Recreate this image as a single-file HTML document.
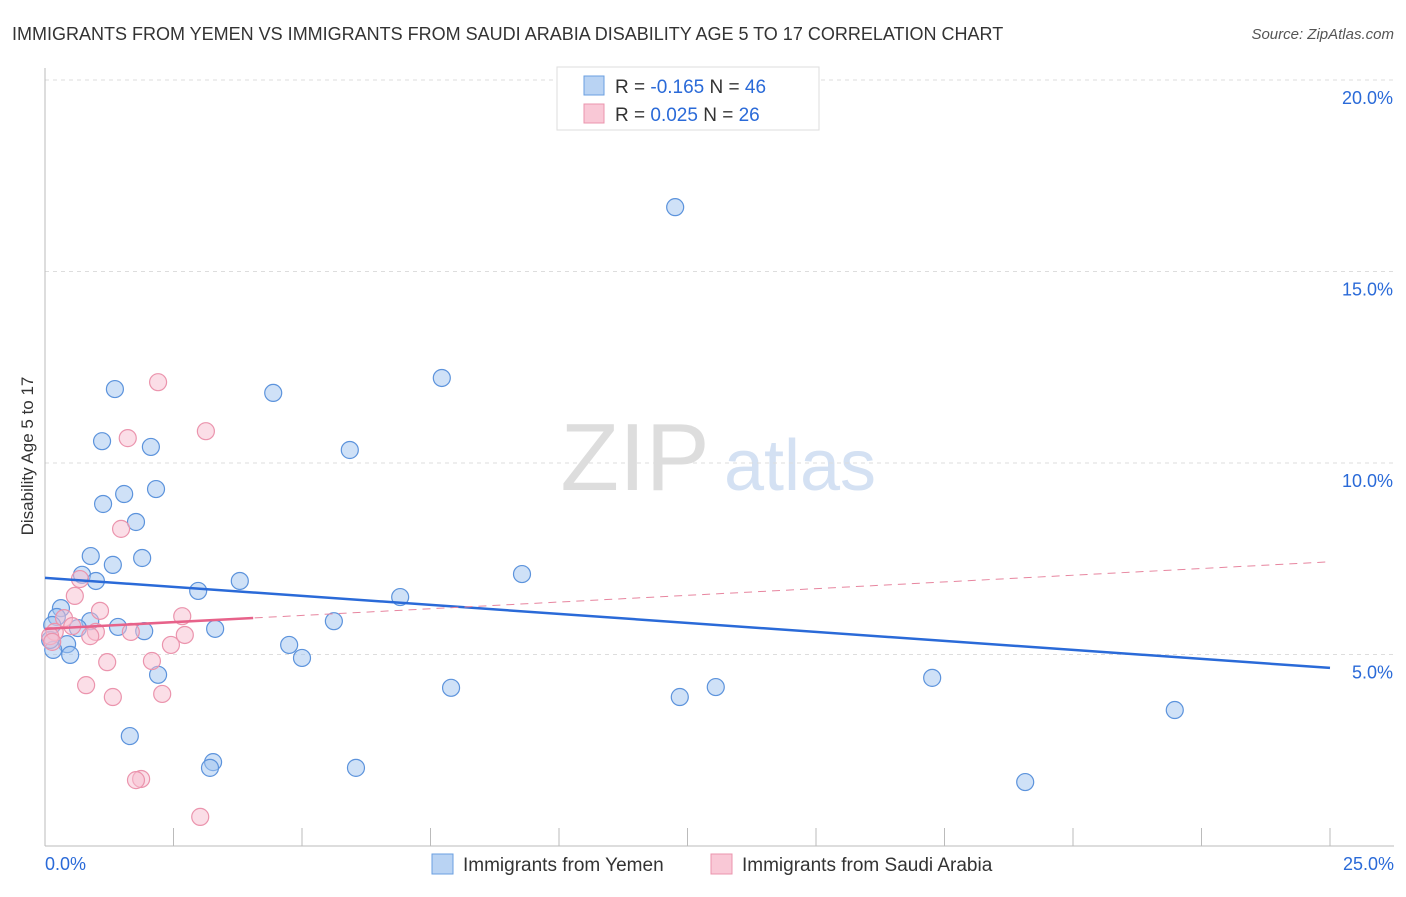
<!DOCTYPE html>
<html><head><meta charset="utf-8"><style>
body{margin:0;background:#fff;font-family:"Liberation Sans",sans-serif}
text{font-family:"Liberation Sans",sans-serif}
</style></head><body>
<svg id="c" width="1406" height="892" xmlns="http://www.w3.org/2000/svg">
<text x="12" y="40" font-size="18" fill="#333">IMMIGRANTS FROM YEMEN VS IMMIGRANTS FROM SAUDI ARABIA DISABILITY AGE 5 TO 17 CORRELATION CHART</text>
<text x="1394" y="39" font-size="15" fill="#555" text-anchor="end" font-style="italic">Source: ZipAtlas.com</text>
<text x="33" y="456" font-size="17" fill="#333" text-anchor="middle" transform="rotate(-90 33 456)">Disability Age 5 to 17</text>
<g><text x="635" y="490" font-size="96" fill="#ddd" text-anchor="middle" font-family="Liberation Serif">ZIP</text><text x="800" y="490" font-size="72" fill="#d4e1f3" text-anchor="middle">atlas</text></g>
<g id="grid"></g><g id="ticks"></g><g id="pts"></g><g id="lines"></g>
<g>
<rect x="557" y="67" width="262" height="63" fill="#fff" stroke="#ddd"/>
<rect x="584" y="76" width="20" height="19" fill="#b9d3f3" stroke="#6a9fe0"/>
<rect x="584" y="104" width="20" height="19" fill="#f9c8d6" stroke="#eb94ad"/>
<text x="615" y="93" font-size="19" fill="#333">R = <tspan fill="#2a6ad8">-0.165</tspan>   N = <tspan fill="#2a6ad8">46</tspan></text>
<text x="615" y="121" font-size="19" fill="#333">R =  <tspan fill="#2a6ad8">0.025</tspan>   N = <tspan fill="#2a6ad8">26</tspan></text>
</g>
<g>
<rect x="432" y="854" width="21" height="20" fill="#b9d3f3" stroke="#6a9fe0"/>
<text x="463" y="871" font-size="19" fill="#333">Immigrants from Yemen</text>
<rect x="711" y="854" width="21" height="20" fill="#f9c8d6" stroke="#eb94ad"/>
<text x="742" y="871" font-size="19" fill="#333">Immigrants from Saudi Arabia</text>
</g>
</svg>
<script>
const yemenX=[12.26,1.36,4.44,7.72,1.11,2.06,5.93,2.16,1.54,1.13,1.77,0.89,1.89,1.32,0.72,0.99,3.79,9.28,2.98,6.91,0.31,0.23,0.88,5.62,1.42,0.64,1.93,3.31,0.14,0.43,4.75,0.49,0.16,5.0,2.2,17.26,7.9,13.05,12.35,21.98,1.65,3.27,3.21,6.05,19.07,0.1];
const yemenY=[16.68,11.93,11.83,12.22,10.57,10.42,10.34,9.32,9.19,8.93,8.46,7.57,7.52,7.34,7.08,6.92,6.92,7.10,6.66,6.50,6.21,5.98,5.87,5.87,5.72,5.69,5.61,5.67,5.77,5.27,5.25,4.99,5.12,4.91,4.47,4.39,4.13,4.15,3.89,3.55,2.87,2.19,2.04,2.04,1.67,5.38];
const saudiX=[2.2,1.61,3.13,1.48,0.68,0.58,1.07,2.67,0.37,0.53,0.99,0.19,1.67,2.72,0.88,2.45,0.1,1.21,2.08,0.8,1.32,2.28,1.87,1.77,3.02,0.14];
const saudiY=[12.11,10.65,10.83,8.28,6.97,6.53,6.14,6.0,5.95,5.74,5.59,5.59,5.59,5.51,5.48,5.25,5.48,4.80,4.83,4.2,3.89,3.97,1.75,1.72,0.76,5.33];
const yTicks=[5,10,15,20];
const xTickLabels=["0.0%","25.0%"];
const yemenTrend=[7.0,4.65];
const saudiTrend=[5.67,7.42];
const saudiSolidEnd=4.05;
const NS="http://www.w3.org/2000/svg";
const X=v=>45+v/25*1285, Y=v=>846-v/5*191.5;
function mk(p,t,a){const e=document.createElementNS(NS,t);for(const k in a)e.setAttribute(k,a[k]);document.getElementById(p).appendChild(e);return e;}
yTicks.forEach(t=>{
 const l=mk('grid','line',{x1:45,x2:1394,y1:Y(t),y2:Y(t),stroke:'#ddd','stroke-dasharray':'4,4'});
 
 
 const tx=mk('ticks','text',{x:1393,y:Y(t)+24,'font-size':18,fill:'#2a6ad8','text-anchor':'end'});tx.textContent=t.toFixed(1)+'%';
 
 
});
mk('grid','line',{x1:45,x2:45,y1:68,y2:846,stroke:'#bbb'});
mk('grid','line',{x1:45,x2:1394,y1:846,y2:846,stroke:'#bbb'});
for(let i=1;i<=10;i++){const x=45+i*128.5;mk('grid','line',{x1:x,x2:x,y1:828,y2:846,stroke:'#bbb'});}
xTickLabels.forEach((s,i)=>{const tx=mk('ticks','text',{x:i?1394:45,y:870,'font-size':18,fill:'#2a6ad8','text-anchor':i?'end':'start'});tx.textContent=s;
 
 });
yemenX.forEach((v,i)=>{const c=mk('pts','circle',{cx:X(v),cy:Y(yemenY[i]),r:8.5,fill:'rgba(160,195,240,0.5)',stroke:'#5c93dc','stroke-width':1.2});
 
 });
saudiX.forEach((v,i)=>{const c=mk('pts','circle',{cx:X(v),cy:Y(saudiY[i]),r:8.5,fill:'rgba(248,190,208,0.5)',stroke:'#eb94ad','stroke-width':1.2});
 
 });
let l=mk('lines','line',{x1:X(0),y1:Y(yemenTrend[0]),x2:X(25),y2:Y(yemenTrend[1]),stroke:'#2a6ad8','stroke-width':2.5});


const sy=x=>saudiTrend[0]+(saudiTrend[1]-saudiTrend[0])*x/25;
l=mk('lines','line',{x1:X(0),y1:Y(saudiTrend[0]),x2:X(25),y2:Y(saudiTrend[1]),stroke:'#e7859f','stroke-width':1,'stroke-dasharray':'8,6'});


l=mk('lines','line',{x1:X(0),y1:Y(saudiTrend[0]),x2:X(saudiSolidEnd),y2:Y(sy(saudiSolidEnd)),stroke:'#e7628a','stroke-width':2.5});


</script>
</body></html>
